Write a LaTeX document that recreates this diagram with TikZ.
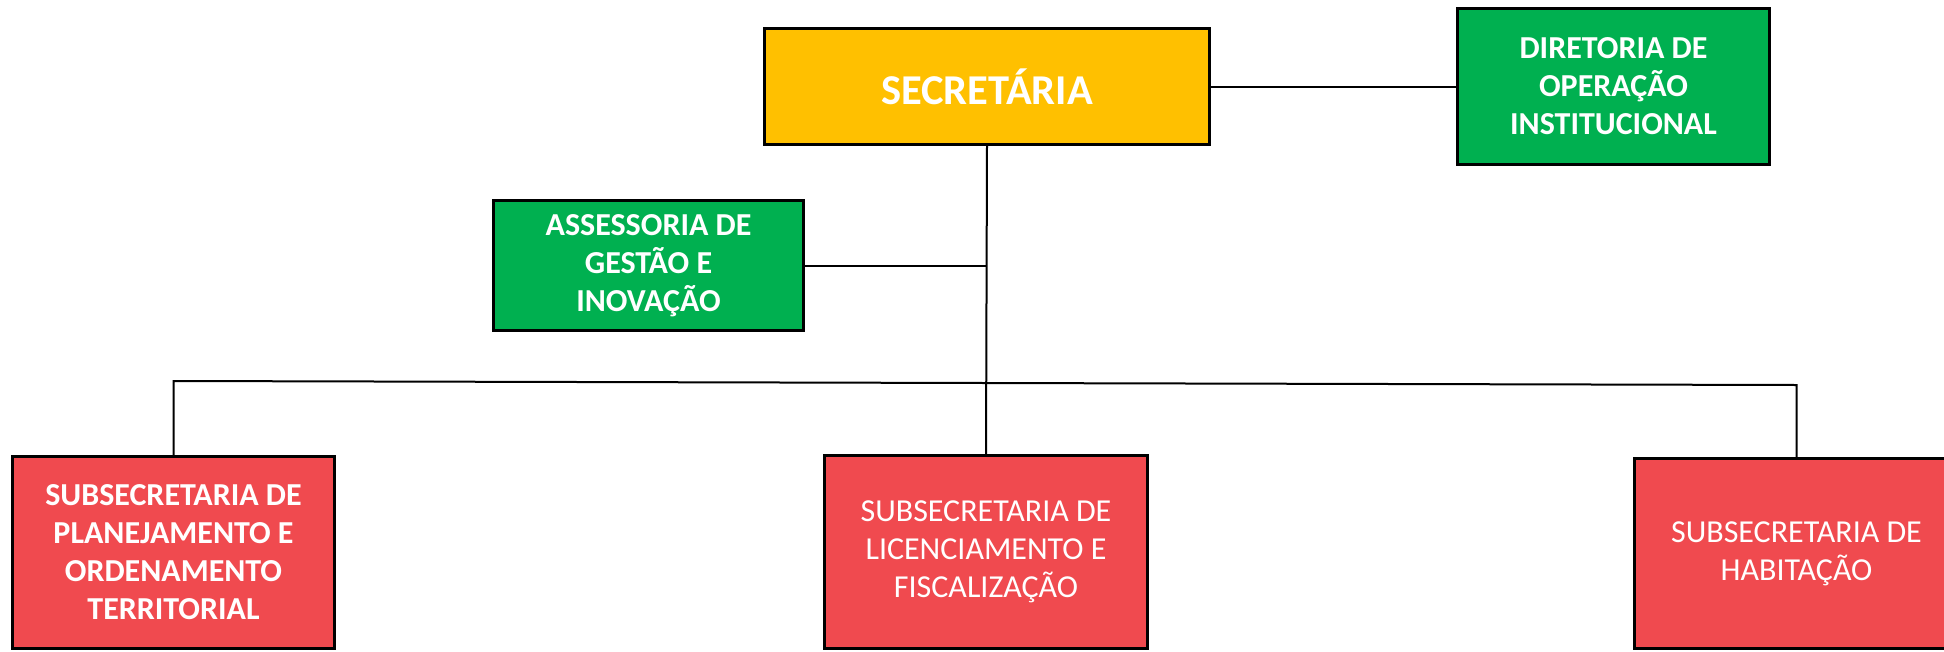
\documentclass[tikz,border=0pt]{standalone}
\usepackage{fontspec}
\setmainfont{Carlito}
\definecolor{secyellow}{RGB}{255,192,0}
\definecolor{dirgreen}{RGB}{0,176,80}
\definecolor{subred}{RGB}{240,74,79}
\tikzset{
  box/.style={draw=black, line width=3.5pt, inner sep=0pt, outer sep=0pt, align=center, text=white, anchor=center},
  conn/.style={draw=black, line width=2pt},
  bigfont/.style={font=\fontsize{42.5}{48}\selectfont\bfseries},
  boldtxt/.style={font=\fontsize{32}{38}\selectfont\bfseries},
  regtxt/.style={font=\fontsize{32}{38}\selectfont},
}
\begin{document}
\begin{tikzpicture}[x=1pt,y=-1pt]
\useasboundingbox (0,0) rectangle (1944,651);
\fill[white] (0,0) rectangle (1944,651);
\clip (0,0) rectangle (1944,651);
% nodes
\node[box, fill=secyellow, bigfont, minimum width=445pt, minimum height=116pt] (sec) at (987,86.5) {SECRETÁRIA};
\node[box, fill=dirgreen, boldtxt, minimum width=312pt, minimum height=156pt] (dir) at (1613.5,86.5) {DIRETORIA DE\\OPERAÇÃO\\INSTITUCIONAL};
\node[box, fill=dirgreen, boldtxt, minimum width=310pt, minimum height=130pt] (ass) at (648.5,265.5) {ASSESSORIA DE\\GESTÃO E\\INOVAÇÃO};
\node[box, fill=subred, boldtxt, minimum width=322pt, minimum height=192pt] (left) at (173.5,552.5) {SUBSECRETARIA DE\\PLANEJAMENTO E\\ORDENAMENTO\\TERRITORIAL};
\node[box, fill=subred, regtxt, minimum width=323pt, minimum height=193pt] (mid) at (986,552) {SUBSECRETARIA DE\\LICENCIAMENTO E\\FISCALIZAÇÃO};
\node[box, fill=subred, regtxt, minimum width=324pt, minimum height=190pt] (right) at (1796.5,553.5) {SUBSECRETARIA DE\\HABITAÇÃO};
% connectors
\coordinate (busL) at (173.5,381);
\coordinate (busR) at (1796.5,385);
\coordinate (jA) at (ass.east -| mid.north);
\draw[conn] (sec.east) -- (dir.west);
\draw[conn] (sec.south) -- (mid.north);
\draw[conn] (ass.east) -- (jA);
\draw[conn] (left.north) -- (busL) -- (busR) -- (right.north);
\end{tikzpicture}
\end{document}
